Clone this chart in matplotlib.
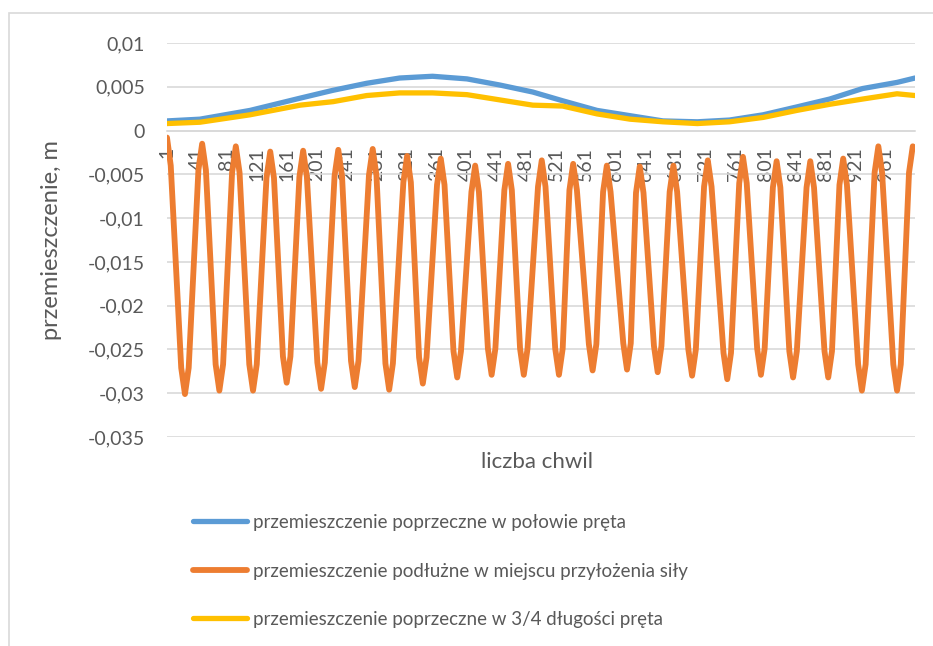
import matplotlib.pyplot as plt
from matplotlib.patches import Rectangle

plt.rcParams['font.family'] = ['Lato', 'DejaVu Sans']

# dane (numer chwili, przemieszczenie w m)
blue_x = [1, 45, 112, 179, 223, 268, 312, 356, 402, 446, 490, 530, 576,
          620, 664, 710, 753, 798, 843, 887, 931, 977, 1001]
blue_y = [0.0011, 0.0013, 0.0023, 0.0037, 0.0046, 0.0054, 0.0060, 0.0062,
          0.0059, 0.0052, 0.0044, 0.0034, 0.0023, 0.0017, 0.0011, 0.0010,
          0.0012, 0.0018, 0.0027, 0.0036, 0.0048, 0.0055, 0.0060]

yellow_x = blue_x
yellow_y = [0.0008, 0.00095, 0.0018, 0.0029, 0.0033, 0.0040, 0.0043, 0.0043,
            0.0041, 0.0035, 0.0029, 0.0028, 0.0019, 0.0013, 0.0010, 0.0008,
            0.0010, 0.0015, 0.0023, 0.0030, 0.0036, 0.0042, 0.0040]

# przebieg podluzny: wierzcholki, doliny i punkty przy nich
orange_x = [1, 6,
            20, 25, 30, 43, 48, 53, 66, 71, 76, 88, 93, 98,
            111, 116, 121, 134, 139, 144, 156, 161, 166, 178, 183, 188,
            202, 207, 212, 225, 230, 235, 247, 252, 257, 271, 276, 281,
            293, 298, 303, 317, 322, 327, 338, 343, 348, 362, 367, 372,
            384, 389, 394, 408, 413, 418, 430, 435, 440, 452, 457, 462,
            473, 478, 483, 497, 502, 507, 520, 525, 530, 539, 544, 549,
            565, 570, 575, 584, 589, 594, 611, 616, 621, 628, 633, 638,
            652, 657, 662, 673, 678, 683, 698, 703, 708, 719, 724, 729,
            745, 750, 755, 766, 771, 776, 790, 795, 800, 811, 816, 821,
            833, 838, 843, 856, 861, 866, 880, 885, 890, 900, 905, 910,
            925, 930, 935, 947, 952, 957, 972, 977, 982, 993, 998, 1001]
orange_y = [-0.0008, -0.0040,
            -0.0271, -0.0301, -0.0271, -0.0045, -0.0015, -0.0045,
            -0.0267, -0.0297, -0.0267, -0.0048, -0.0018, -0.0048,
            -0.0267, -0.0297, -0.0267, -0.0054, -0.0024, -0.0054,
            -0.0258, -0.0288, -0.0258, -0.0053, -0.0023, -0.0053,
            -0.0265, -0.0295, -0.0265, -0.0052, -0.0022, -0.0052,
            -0.0263, -0.0293, -0.0263, -0.0051, -0.0021, -0.0051,
            -0.0266, -0.0296, -0.0266, -0.0059, -0.0029, -0.0059,
            -0.0259, -0.0289, -0.0259, -0.0062, -0.0032, -0.0062,
            -0.0252, -0.0282, -0.0252, -0.0070, -0.0040, -0.0070,
            -0.0249, -0.0279, -0.0249, -0.0068, -0.0038, -0.0068,
            -0.0249, -0.0279, -0.0249, -0.0064, -0.0034, -0.0064,
            -0.0249, -0.0279, -0.0249, -0.0068, -0.0038, -0.0068,
            -0.0244, -0.0274, -0.0244, -0.0070, -0.0040, -0.0070,
            -0.0243, -0.0273, -0.0243, -0.0071, -0.0041, -0.0071,
            -0.0246, -0.0276, -0.0246, -0.0070, -0.0040, -0.0070,
            -0.0250, -0.0280, -0.0250, -0.0064, -0.0034, -0.0064,
            -0.0254, -0.0284, -0.0254, -0.0060, -0.0030, -0.0060,
            -0.0249, -0.0279, -0.0249, -0.0065, -0.0035, -0.0065,
            -0.0252, -0.0282, -0.0252, -0.0065, -0.0035, -0.0065,
            -0.0252, -0.0282, -0.0252, -0.0062, -0.0032, -0.0062,
            -0.0267, -0.0297, -0.0267, -0.0048, -0.0018, -0.0048,
            -0.0267, -0.0297, -0.0267, -0.0048, -0.0018, -0.0020]

x_ticks = list(range(1, 1001, 40))
y_ticks = [0.01, 0.005, 0, -0.005, -0.01, -0.015, -0.02, -0.025, -0.03, -0.035]
labels = ['przemieszczenie poprzeczne w połowie pręta',
          'przemieszczenie podłużne w miejscu przyłożenia siły',
          'przemieszczenie poprzeczne w 3/4 długości pręta']

text_col = '#595959'
grid_col = '#d9d9d9'

fig = plt.figure(figsize=(9.33, 6.46), dpi=100)
ax = fig.add_axes([167 / 933, 1 - 437 / 646, (915 - 167) / 933, (437 - 43) / 646])

ax.plot(blue_x, blue_y, color='#5b9bd5', lw=3.8, solid_capstyle='round',
        solid_joinstyle='round', label=labels[0], zorder=3)
ax.plot(orange_x, orange_y, color='#ed7d31', lw=4.2, solid_capstyle='round',
        solid_joinstyle='round', label=labels[1], zorder=4)
ax.plot(yellow_x, yellow_y, color='#ffc000', lw=3.8, solid_capstyle='round',
        solid_joinstyle='round', label=labels[2], zorder=3)

for s in ['top', 'right', 'left']:
    ax.spines[s].set_visible(False)
ax.spines['bottom'].set_position(('data', 0))
ax.spines['bottom'].set_color(grid_col)
ax.spines['bottom'].set_linewidth(1.2)

ax.set_xlim(1, 1001)
ax.set_ylim(-0.035, 0.01)
ax.set_yticks(y_ticks)
ax.set_yticklabels([('%g' % v).replace('.', ',') for v in y_ticks])
ax.set_xticks(x_ticks)
ax.set_xticklabels([str(t) for t in x_ticks])
ax.grid(axis='y', color=grid_col, lw=1.2)
ax.set_axisbelow(True)

ax.tick_params(axis='y', length=0, pad=16, labelsize=14, labelcolor=text_col)
ax.tick_params(axis='x', length=0, pad=12, labelsize=14, labelcolor=text_col,
               labelrotation=90)

ax.set_ylabel('przemieszczenie, m', fontsize=17, color=text_col)
ax.yaxis.set_label_coords(-0.14, 0.5)
fig.text(537 / 933, 1 - 462 / 646, 'liczba chwil', fontsize=16, color=text_col,
         ha='center', va='center')

fig.legend(loc='upper left', bbox_to_anchor=(193 / 933, 1 - 514 / 646),
           frameon=False, fontsize=13.5, labelcolor=text_col, handlelength=2.9,
           handletextpad=0.3, labelspacing=1.68, borderpad=0, borderaxespad=0)

fig.add_artist(Rectangle((9 / 933, -0.2), 2, 1.2 - 14 / 646 + 0.001,
                         transform=fig.transFigure, fill=False,
                         edgecolor=grid_col, lw=1.2))

plt.savefig('out.png', dpi=100)
